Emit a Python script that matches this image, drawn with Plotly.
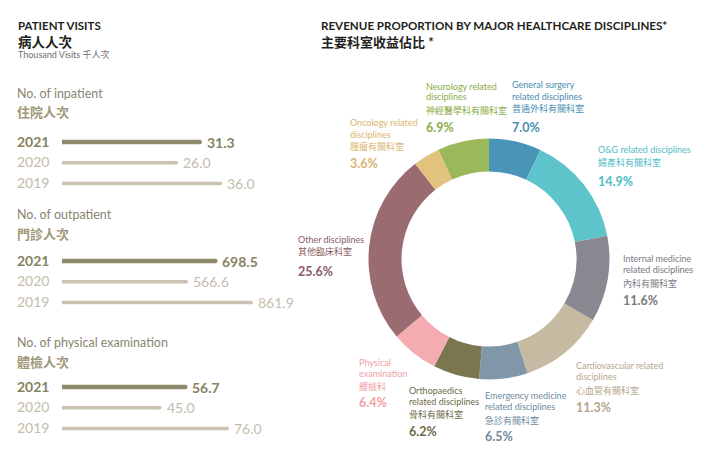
import plotly.graph_objects as go

W, H = 708, 462
def X(p): return p / W
def Y(p): return 1 - p / H

# ---------------- data ----------------
years = ["2021", "2020", "2019"]
inpatient = [31.3, 26.0, 36.0]
outpatient = [698.5, 566.6, 861.9]
physical = [56.7, 45.0, 76.0]

disc_en = [
    "General surgery<br>related disciplines",
    "O&G related disciplines",
    "Internal medicine<br>related disciplines",
    "Cardiovascular related<br>disciplines",
    "Emergency medicine<br>related disciplines",
    "Orthopaedics<br>related disciplines",
    "Physical<br>examination",
    "Other disciplines",
    "Oncology related<br>disciplines",
    "Neurology related<br>disciplines",
]
disc_zh = ["普通外科有關科室", "婦產科有關科室", "內科有關科室", "心血管有關科室",
           "急診有關科室", "骨科有關科室", "體檢科", "其他臨床科室",
           "腫瘤有關科室", "神經醫學科有關科室"]
disc_share = [7.0, 14.9, 11.6, 11.3, 6.5, 6.2, 6.4, 25.6, 3.6, 6.9]

# ---------------- styles ----------------
FONT = "Lato, 'Noto Sans CJK TC', sans-serif"
slice_colors = ["#4a94b8", "#5ec4cc", "#8a8790", "#c7baa2", "#7f97a8",
                "#7b7650", "#f4acb0", "#9b6b72", "#e2c37d", "#9bb85a"]
label_colors = ["#4a8db0", "#4fbcc6", "#7a7880", "#b5a68e", "#6f8a9c",
                "#6e6a48", "#f0a0a6", "#8a5a64", "#d9b56e", "#8bab48"]
# label block positions: (left x px, first english line y px, chinese y px, pct y px)
label_pos = [
    (511, 85, 109, 128),
    (597, 149, 162, 181),
    (622, 258, 283, 300),
    (575, 365, 390, 407),
    (484, 395, 420, 436),
    (408, 390, 414, 431),
    (358, 362, 386, 402),
    (297, 240, 252, 271),
    (349, 123, 146, 163),
    (425, 86, 110, 128),
]

DARK_BAR = "#8e8a6c"
LIGHT_BAR = "#cac3b1"
DARK_TXT = "#878260"
LIGHT_TXT = "#c4bdab"

fig = go.Figure()

groups = [
    ("No. of inpatient", "住院人次", inpatient, 4.40, 93, 112, 142),
    ("No. of outpatient", "門診人次", outpatient, 0.2195, 214, 234, 261),
    ("No. of physical examination", "體檢人次", physical, 2.175, 342, 362, 387),
]
ROW = 20.7
annotations = []
layout_axes = {}
for gi, (t_en, t_zh, vals, scale, ty_en, ty_zh, row0) in enumerate(groups):
    sfx = "" if gi == 0 else str(gi + 1)
    xa, ya = "x" + sfx, "y" + sfx
    for i, v in enumerate(vals):
        col = DARK_BAR if i == 0 else LIGHT_BAR
        wdt = 4.5 if i == 0 else 3.5
        fig.add_trace(go.Scatter(
            x=[0, v], y=[i, i], mode="lines+markers", xaxis=xa, yaxis=ya,
            line=dict(color=col, width=wdt),
            marker=dict(color=col, size=wdt, line=dict(width=0)),
            hoverinfo="skip", showlegend=False))
        tc = DARK_TXT if i == 0 else LIGHT_TXT
        txt = f"<b>{v:.1f}</b>" if i == 0 else f"{v:.1f}"
        annotations.append(dict(x=v, y=i, xref=xa, yref=ya, text=txt, showarrow=False,
                                xanchor="left", yanchor="middle", xshift=6,
                                font=dict(family=FONT, size=14, color=tc)))
        ytxt = f"<b>{years[i]}</b>" if i == 0 else years[i]
        annotations.append(dict(x=X(16), y=i, xref="paper", yref=ya, text=ytxt,
                                showarrow=False, xanchor="left", yanchor="middle", yshift=1,
                                font=dict(family=FONT, size=14, color=tc)))
    top = row0 - ROW / 2
    bot = row0 + 2.5 * ROW
    layout_axes["xaxis" + sfx] = dict(domain=[X(62), X(262)], range=[0, 200 / scale],
                                      visible=False, anchor=ya, fixedrange=True)
    layout_axes["yaxis" + sfx] = dict(domain=[Y(bot), Y(top)], range=[2.5, -0.5],
                                      visible=False, anchor=xa, fixedrange=True)
    annotations.append(dict(x=X(16), y=Y(ty_en), xref="paper", yref="paper", text=t_en,
                            showarrow=False, xanchor="left", yanchor="middle",
                            font=dict(family=FONT, size=12.5, color="#8a8573")))
    annotations.append(dict(x=X(16), y=Y(ty_zh), xref="paper", yref="paper", text=f"<b>{t_zh}</b>",
                            showarrow=False, xanchor="left", yanchor="middle",
                            font=dict(family=FONT, size=13, color="#a09878")))

# titles
annotations += [
    dict(x=X(17), y=Y(26), text="<b>PATIENT VISITS</b>", font=dict(family=FONT, size=11.5, color="#231f20")),
    dict(x=X(17), y=Y(42), text="<b>病人人次</b>", font=dict(family=FONT, size=13.5, color="#231f20")),
    dict(x=X(17), y=Y(54), text="Thousand Visits 千人次", font=dict(family=FONT, size=9, color="#6d6e71")),
    dict(x=X(320), y=Y(26), text="<b>REVENUE PROPORTION BY MAJOR HEALTHCARE DISCIPLINES*</b>",
         font=dict(family=FONT, size=11.6, color="#231f20")),
    dict(x=X(320), y=Y(42), text="<b>主要科室收益佔比 *</b>", font=dict(family=FONT, size=13, color="#231f20")),
]
for a in annotations[-5:]:
    a.update(xref="paper", yref="paper", showarrow=False, xanchor="left", yanchor="middle")

# donut
fig.add_trace(go.Pie(
    values=disc_share, labels=[z for z in disc_zh], sort=False, direction="clockwise",
    rotation=0, hole=0.726, textinfo="none", hoverinfo="label+percent",
    marker=dict(colors=slice_colors, line=dict(width=0)), showlegend=False,
    domain=dict(x=[X(368.5), X(609.5)], y=[Y(379.5), Y(138.5)])))

for en, zh, v, col, (lx, ly, zy, py) in zip(disc_en, disc_zh, disc_share, label_colors, label_pos):
    for k, line in enumerate(en.split("<br>")):
        annotations.append(dict(x=X(lx), y=Y(ly + 11 * k), xref="paper", yref="paper", text=line,
                                showarrow=False, xanchor="left", yanchor="middle",
                                font=dict(family=FONT, size=9, color=col)))
    annotations.append(dict(x=X(lx), y=Y(zy), xref="paper", yref="paper", text=zh,
                            showarrow=False, xanchor="left", yanchor="middle",
                            font=dict(family=FONT, size=9, color=col)))
    annotations.append(dict(x=X(lx), y=Y(py), xref="paper", yref="paper", text=f"<b>{v:.1f}%</b>",
                            showarrow=False, xanchor="left", yanchor="middle",
                            font=dict(family=FONT, size=12.5, color=col)))

for a in annotations:
    a.setdefault("borderpad", 0)
    a.setdefault("xshift", 0)

fig.update_layout(width=W, height=H, margin=dict(l=0, r=0, t=0, b=0),
                  paper_bgcolor="white", plot_bgcolor="white",
                  annotations=annotations, **layout_axes)
fig.write_html("out.html", config={"displayModeBar": False},
               post_script="document.body.style.margin='0';document.body.style.overflow='hidden';")
